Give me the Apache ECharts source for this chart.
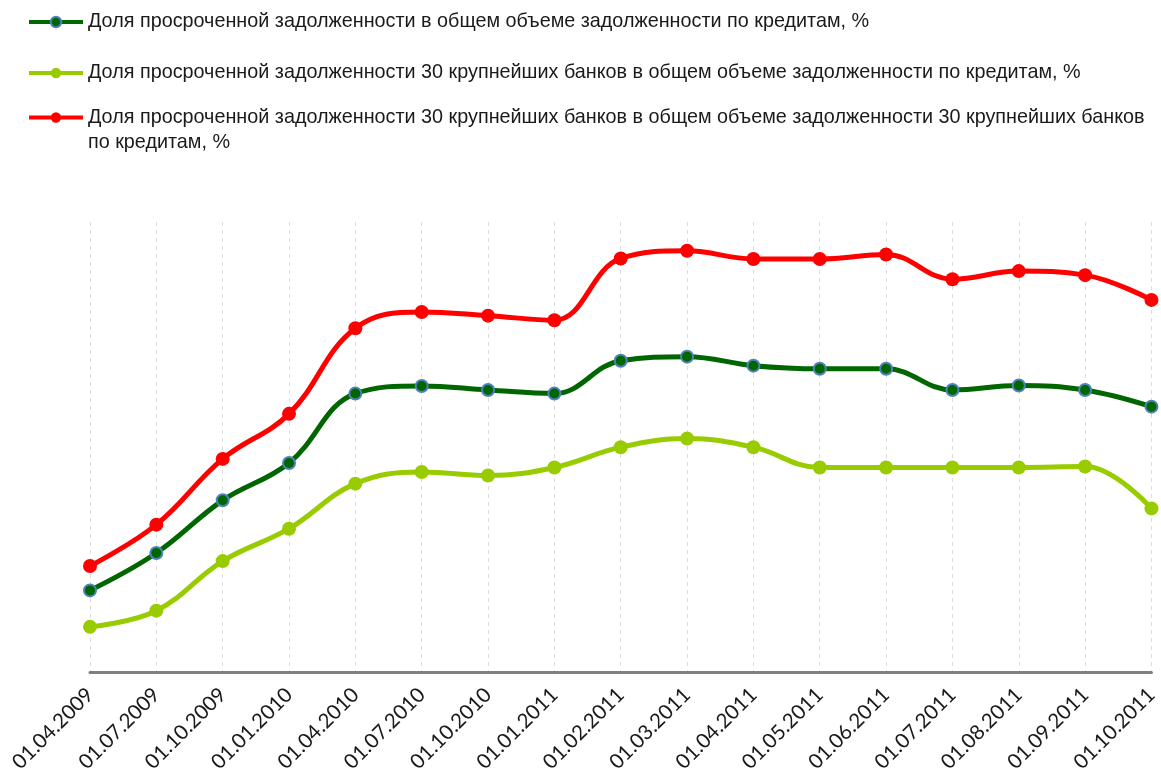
<!DOCTYPE html>
<html>
<head>
<meta charset="utf-8">
<script src="https://cdn.jsdelivr.net/npm/echarts@6/dist/echarts.min.js"></script>
<style>html,body{margin:0;padding:0;background:#fff}#c{width:1161px;height:775px}</style>
</head>
<body>
<div id="c"></div>
<script>
const categories = ['01.04.2009','01.07.2009','01.10.2009','01.01.2010','01.04.2010','01.07.2010','01.10.2010','01.01.2011','01.02.2011','01.03.2011','01.04.2011','01.05.2011','01.06.2011','01.07.2011','01.08.2011','01.09.2011','01.10.2011'];
const seriesNames = [
  'Доля просроченной задолженности в общем объеме задолженности по кредитам, %',
  'Доля просроченной задолженности 30 крупнейших банков в общем объеме задолженности по кредитам, %',
  'Доля просроченной задолженности 30 крупнейших банков в общем объеме задолженности 30 крупнейших банков по кредитам, %'
];
const totalShare = [1.82,2.65,3.82,4.65,6.19,6.36,6.27,6.19,6.92,7.01,6.81,6.74,6.74,6.27,6.37,6.27,5.90];
const top30ShareOfTotal = [1.01,1.37,2.47,3.19,4.19,4.45,4.37,4.55,5.00,5.19,5.00,4.55,4.55,4.55,4.55,4.57,3.64];
const top30ShareOfTop30 = [2.36,3.28,4.74,5.74,7.64,8.00,7.92,7.82,9.19,9.36,9.18,9.18,9.28,8.73,8.91,8.82,8.27];

const chart = echarts.init(document.getElementById('c'), null, {renderer:'canvas'});
const font = 'Liberation Sans';
function mkLegend(name, top, lh, fmt){
  return {
    orient: 'vertical', left: 27, top: top, padding: 0,
    itemWidth: 54, itemHeight: 13,
    lineStyle: {width: 4},
    textStyle: {fontFamily: font, fontSize: 19.8, color: '#1a1a1a', lineHeight: lh},
    formatter: fmt || null,
    data: [name]
  };
}
chart.setOption({
  animation: false,
  backgroundColor: '#fff',
  legend: [
    mkLegend(seriesNames[0], 10, 24),
    mkLegend(seriesNames[1], 61, 24),
    mkLegend(seriesNames[2], 80, 25, function(n){
      const cut = n.lastIndexOf(' по кредитам');
      return ' \n' + n.slice(0, cut) + '\n' + n.slice(cut + 1);
    })
  ],
  grid: {left: 90, right: 9, top: 222, bottom: 102, containLabel: false},
  xAxis: {
    type: 'category', boundaryGap: false, data: categories,
    axisLine: {show: true, lineStyle: {color: '#808080', width: 3}},
    axisTick: {show: false},
    axisLabel: {rotate: 45, fontFamily: 'Lato', fontSize: 20.5, color: '#1a1a1a', margin: 19, interval: 0},
    splitLine: {show: true, lineStyle: {color: '#dddddd', type: [4,4], width: 1}}
  },
  yAxis: {
    type: 'value', min: 0, max: 10,
    axisLine: {show: false}, axisTick: {show: false}, axisLabel: {show: false}, splitLine: {show: false}
  },
  series: [
    {name: seriesNames[0], type: 'line', data: totalShare, smooth: 0.4,
     lineStyle: {color: '#006600', width: 5}, symbol: 'circle', symbolSize: 12,
     itemStyle: {color: '#006600', borderColor: '#4f81bd', borderWidth: 2}, z: 3},
    {name: seriesNames[1], type: 'line', data: top30ShareOfTotal, smooth: 0.4,
     lineStyle: {color: '#99cc00', width: 5}, symbol: 'circle', symbolSize: 14,
     itemStyle: {color: '#99cc00', borderWidth: 0}, z: 2},
    {name: seriesNames[2], type: 'line', data: top30ShareOfTop30, smooth: 0.4,
     lineStyle: {color: '#ff0000', width: 5}, symbol: 'circle', symbolSize: 14,
     itemStyle: {color: '#ff0000', borderWidth: 0}, z: 2}
  ]
});
</script>
</body>
</html>
